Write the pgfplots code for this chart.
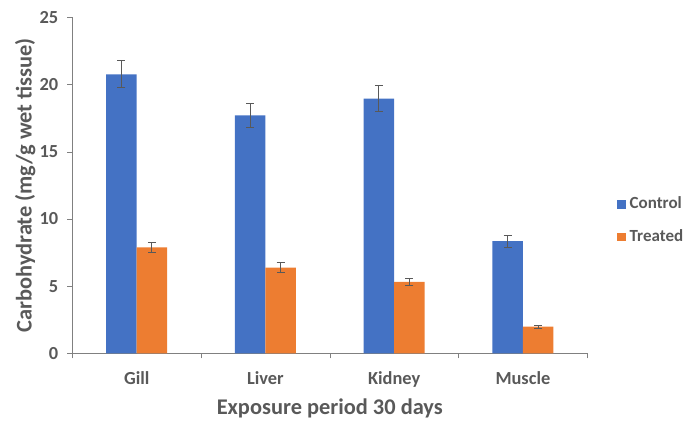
\documentclass[border=0pt]{standalone}
\usepackage{pgfplots}
\pgfplotsset{compat=1.18}
\usepackage{pgfplotstable}
\usepackage{fontspec}
\setmainfont{Carlito}
\definecolor{ctrl}{HTML}{4472C4}
\definecolor{trt}{HTML}{ED7D31}
\definecolor{txt}{HTML}{595959}
\definecolor{axc}{HTML}{808080}

\pgfplotstableread{
x y err
0 20.75 1.0
1 17.70 0.90
2 18.95 0.95
3 8.35 0.45
}\controldata
\pgfplotstableread{
x y err
0 7.88 0.37
1 6.38 0.35
2 5.32 0.26
3 1.98 0.12
}\treateddata

\begin{document}
\begin{tikzpicture}
\useasboundingbox (-36.15pt,-38.35pt) rectangle (311.35pt,176.65pt);
\begin{axis}[
  scale only axis,
  width=257.5pt, height=168pt,
  ybar=0pt, bar width=0.237,
  xmin=-0.5, xmax=3.5,
  ymin=0, ymax=25,
  ytick={0,5,...,25},
  xtick={0,1,2,3},
  xticklabels={Gill,Liver,Kidney,Muscle},
  minor xtick={-0.5,0.5,1.5,2.5,3.5},
  major x tick style={draw=none},
  minor x tick style={axc},
  minor tick length=2.5pt,
  major tick length=2.5pt,
  tick align=outside,
  axis x line*=bottom, axis y line*=left,
  axis line style={axc, line width=0.6pt},
  ytick style={axc},
  tick label style={font=\bfseries\fontsize{9.2}{10}\selectfont, text=txt},
  /pgf/number format/assume math mode=true,
  xticklabel style={yshift=-3pt},
  yticklabel style={xshift=-1pt},
  xlabel={Exposure period 30 days},
  ylabel={Carbohydrate (mg/g wet tissue)},
  label style={font=\bfseries\fontsize{11.2}{13}\selectfont, text=txt},
  xlabel style={at={(axis description cs:0.5,-0.1637)}, anchor=center},
  ylabel style={at={(axis description cs:-0.0913,0.5)}, anchor=center},
  legend style={at={(rel axis cs:1.045,0.395)}, anchor=west, draw=none, fill=none,
    font=\bfseries\fontsize{8.5}{10}\selectfont, text=txt, row sep=5pt,
    legend cell align=left},
  legend image code/.code={\fill[#1] (0pt,-2.2pt) rectangle (4.4pt,2.2pt);},
  error bars/error bar style={txt, line width=0.5pt},
  error bars/error mark options={rotate=90, txt, mark size=2pt, line width=0.5pt},
]
\addplot[fill=ctrl, draw=none, error bars/.cd, y dir=both, y explicit]
  table[x=x, y=y, y error=err] {\controldata};
\addplot[fill=trt, draw=none, error bars/.cd, y dir=both, y explicit]
  table[x=x, y=y, y error=err] {\treateddata};
\legend{Control, Treated}
\end{axis}
\end{tikzpicture}
\end{document}
